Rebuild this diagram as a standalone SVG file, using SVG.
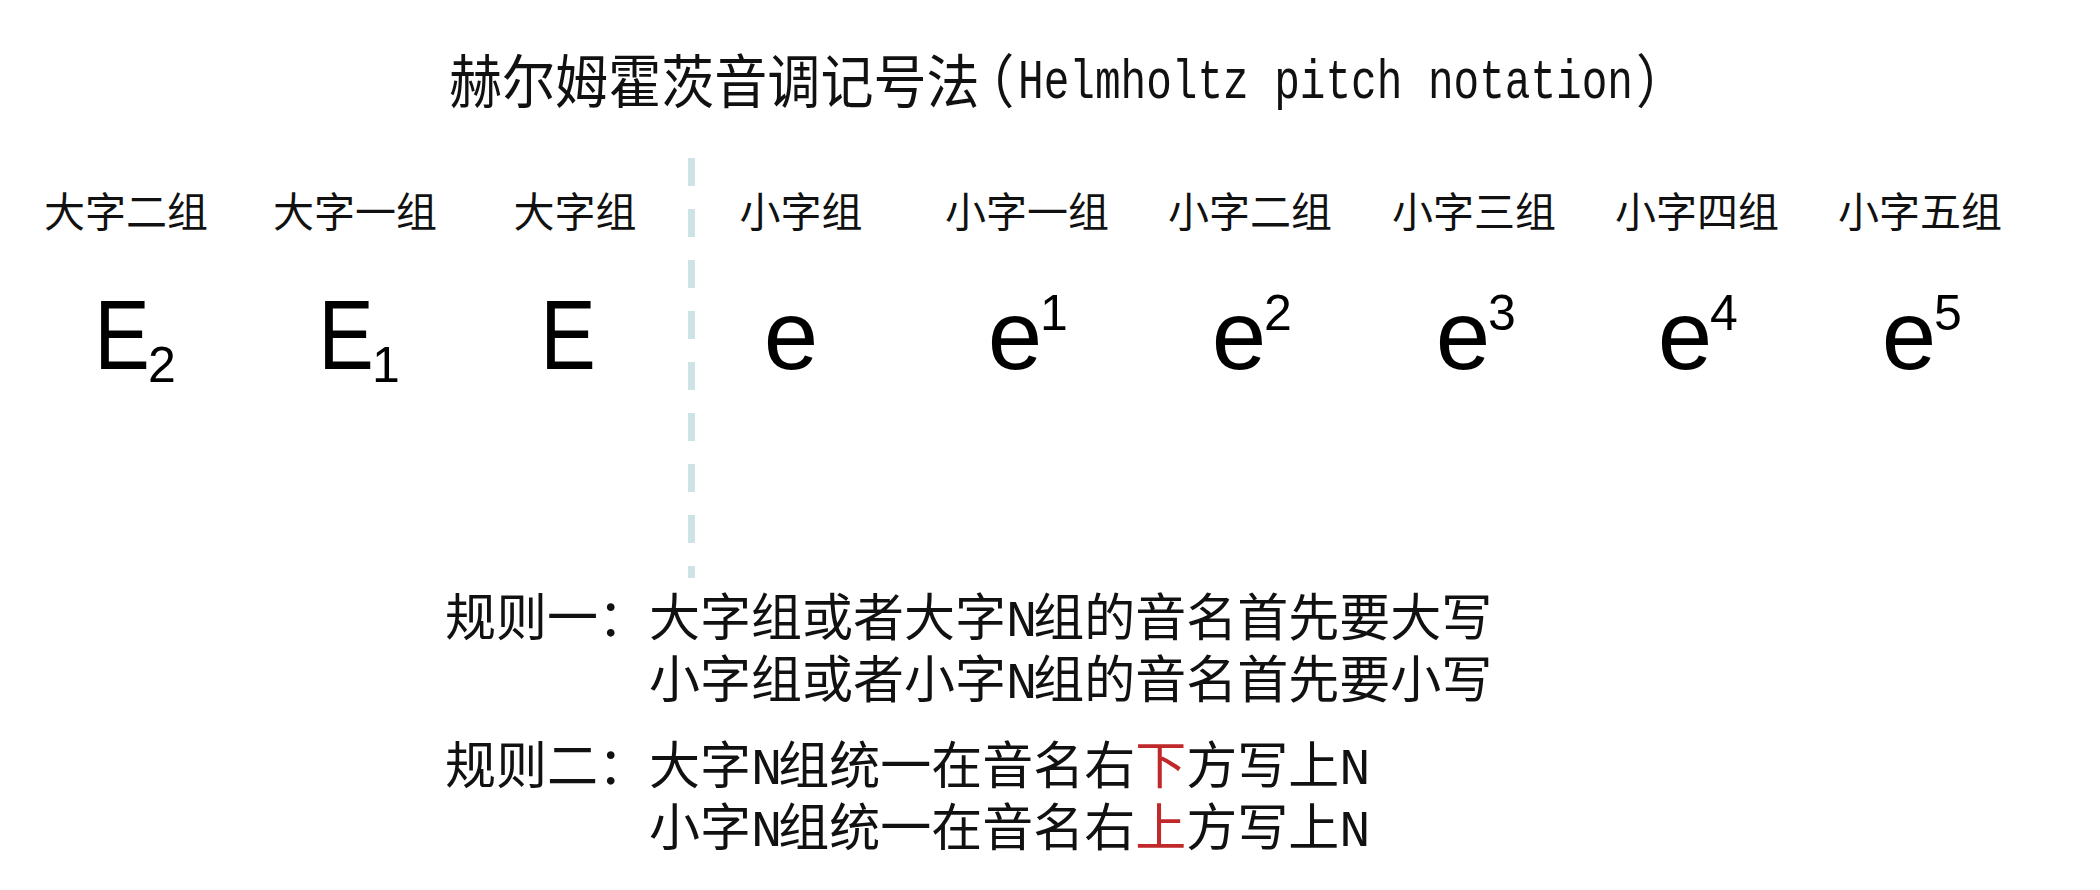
<svg xmlns="http://www.w3.org/2000/svg" width="2100" height="890" viewBox="0 0 2100 890">
  <style>
    .cjk { font-family: "Noto Sans CJK SC", "Noto Sans", sans-serif; fill: #111; }
    .mono { font-family: "Liberation Mono", "DejaVu Sans Mono", monospace; fill: #111; }
    .label { font-family: "Noto Sans CJK SC", sans-serif; font-size: 41px; fill: #111; text-anchor: middle; }
    .note { font-family: "Liberation Sans", Arial, sans-serif; font-size: 98px; fill: #000; text-anchor: middle; }
    .idx { font-family: "Liberation Sans", Arial, sans-serif; font-size: 50px; fill: #000; }
    .rule { font-family: "Noto Sans CJK SC", sans-serif; font-size: 51px; fill: #111; }
    .n { font-family: "Liberation Mono", monospace; font-size: 52px; letter-spacing: -4px; }
    .red { fill: #c0282a; }
    .divider { stroke: #cde3e6; stroke-width: 7; stroke-dasharray: 28 23; fill: none; }
  </style>
  <rect width="2100" height="890" fill="#ffffff"/>

  <g id="title">
    <text class="cjk" font-size="58" transform="translate(449,103) scale(0.915,1)">赫尔姆霍茨音调记号法<tspan dx="-20">（</tspan></text>
    <text class="mono" font-size="56" x="1018" y="98" textLength="615" lengthAdjust="spacingAndGlyphs">Helmholtz pitch notation</text>
    <text class="cjk" font-size="58" transform="translate(1636,103) scale(0.9,1)">）</text>
  </g>

  <g id="connectors">
    <line class="divider" x1="691.5" y1="158" x2="691.5" y2="578"/>
  </g>

  <g id="group-great-2">
    <text class="label" x="126" y="227">大字二组</text>
    <text class="note" transform="translate(122,369) scale(0.85,1)">E</text>
    <text class="idx" x="148" y="382">2</text>
  </g>
  <g id="group-great-1">
    <text class="label" x="355" y="227">大字一组</text>
    <text class="note" transform="translate(346,369) scale(0.85,1)">E</text>
    <text class="idx" x="372" y="382">1</text>
  </g>
  <g id="group-great">
    <text class="label" x="575" y="227">大字组</text>
    <text class="note" transform="translate(568,369) scale(0.85,1)">E</text>
  </g>
  <g id="group-small">
    <text class="label" x="801" y="227">小字组</text>
    <text class="note" x="791" y="369">e</text>
  </g>
  <g id="group-small-1">
    <text class="label" x="1027" y="227">小字一组</text>
    <text class="note" x="1015" y="369">e</text>
    <text class="idx" x="1040" y="330">1</text>
  </g>
  <g id="group-small-2">
    <text class="label" x="1250" y="227">小字二组</text>
    <text class="note" x="1239" y="369">e</text>
    <text class="idx" x="1264" y="330">2</text>
  </g>
  <g id="group-small-3">
    <text class="label" x="1474" y="227">小字三组</text>
    <text class="note" x="1463" y="369">e</text>
    <text class="idx" x="1488" y="330">3</text>
  </g>
  <g id="group-small-4">
    <text class="label" x="1697" y="227">小字四组</text>
    <text class="note" x="1685" y="369">e</text>
    <text class="idx" x="1710" y="330">4</text>
  </g>
  <g id="group-small-5">
    <text class="label" x="1920" y="227">小字五组</text>
    <text class="note" x="1909" y="369">e</text>
    <text class="idx" x="1934" y="330">5</text>
  </g>

  <g id="rules">
    <text class="rule" x="445" y="636">规则一：大字组或者大字<tspan class="n">N</tspan>组的音名首先要大写</text>
    <text class="rule" x="649" y="698">小字组或者小字<tspan class="n">N</tspan>组的音名首先要小写</text>
    <text class="rule" x="445" y="784">规则二：大字<tspan class="n">N</tspan>组统一在音名右<tspan class="red">下</tspan>方写上<tspan class="n">N</tspan></text>
    <text class="rule" x="649" y="846">小字<tspan class="n">N</tspan>组统一在音名右<tspan class="red">上</tspan>方写上<tspan class="n">N</tspan></text>
  </g>
</svg>
